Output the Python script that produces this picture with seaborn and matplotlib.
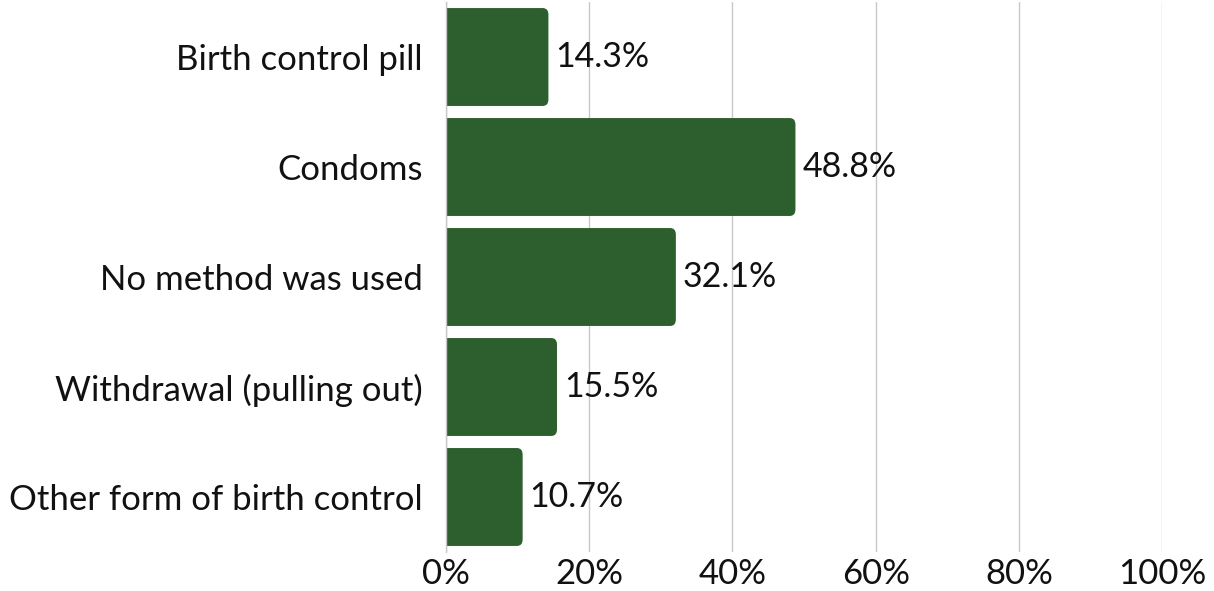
import matplotlib
matplotlib.use("Agg")
import matplotlib.pyplot as plt
from matplotlib.patches import FancyBboxPatch
import seaborn as sns
import pandas as pd

methods = [
    "Birth control pill",
    "Condoms",
    "No method was used",
    "Withdrawal (pulling out)",
    "Other form of birth control",
]
shares = [14.3, 48.8, 32.1, 15.5, 10.7]
x_ticks = [0, 20, 40, 60, 80, 100]
x_tick_labels = ["0%", "20%", "40%", "60%", "80%", "100%"]

df = pd.DataFrame({"method": methods, "share": shares})

sns.set_style("white")
plt.rcParams["font.family"] = ["Lato", "DejaVu Sans"]

fig = plt.figure(figsize=(12.14, 5.91), dpi=100)
ax = fig.add_axes([0.3674, 0.066, 0.5898, 0.9306])

sns.barplot(data=df, x="share", y="method", color="#2c5e2e", saturation=1,
            width=0.89, ax=ax)

# swap the plain bars for ones with rounded right corners
bar_color = "#2c5e2e"
for p in list(ax.patches):
    x0, y0 = p.get_x(), p.get_y()
    w, h = p.get_width(), p.get_height()
    p.set_visible(False)
    rb = FancyBboxPatch((x0 - 5, y0), w + 5, h,
                        boxstyle="round,pad=0,rounding_size=0.8",
                        mutation_aspect=0.075,
                        facecolor=bar_color, edgecolor="none", zorder=2)
    ax.add_patch(rb)

ax.bar_label(ax.containers[0], labels=[f"{v}%" for v in shares],
             padding=5, fontsize=24.5, color="#111111")

ax.set_xlim(0, 100)
ax.set_xticks(x_ticks)
ax.set_xticklabels(x_tick_labels, fontsize=25)
ax.tick_params(axis="x", length=0, pad=4, colors="#111111")
ax.tick_params(axis="y", length=0, pad=17, labelsize=25, colors="#111111")
ax.set_xlabel("")
ax.set_ylabel("")

ax.grid(axis="x", color="#c8c8c8", linewidth=1)
ax.set_axisbelow(True)
for s in ["top", "right", "bottom"]:
    ax.spines[s].set_visible(False)
ax.spines["left"].set_color("#c8c8c8")
ax.spines["left"].set_linewidth(1)

fig.savefig("out.png", dpi=100)
